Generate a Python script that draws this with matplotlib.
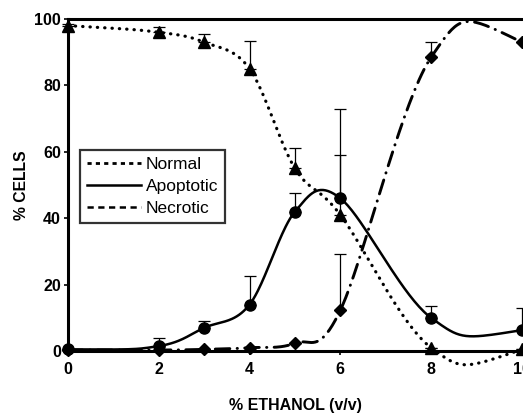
import matplotlib.pyplot as plt
import numpy as np
from matplotlib.lines import Line2D

plt.rcParams["font.family"] = ["Liberation Sans", "DejaVu Sans"]

# ── data ──────────────────────────────────────────────────────────────────────
ETHANOL = [0, 2, 3, 4, 5, 6, 8, 10]

NORMAL      = [98, 96, 93, 85, 55, 41, 1.0, 0.5]
NORMAL_ERR  = [0.5, 1.5, 2.5, 8.5, 6, 18, 0, 0]
APOPT       = [0.5, 1.5, 7, 14, 42, 46, 10, 6.3]
APOPT_ERR   = [0, 2.5, 2, 8.5, 5.5, 27, 3.5, 6.7]
NECROT      = [0.3, 0.3, 0.5, 1.0, 2.4, 12.3, 88.5, 93]
NECROT_ERR  = [0, 0, 0, 0, 0, 17, 4.5, 0]

XTICKS = [0, 2, 4, 6, 8, 10]
YTICKS = [0, 20, 40, 60, 80, 100]


def smooth(x, y, n=40):
    """Spreadsheet-style smoothed line (Hermite through the points)."""
    P = np.column_stack([x, y]).astype(float)
    T = np.zeros_like(P)
    T[1:-1] = (P[2:] - P[:-2]) / 2
    T[0] = 3 * (P[1] - P[0]) - T[1]
    T[-1] = 3 * (P[-1] - P[-2]) - T[-2]
    t = np.linspace(0, 1, n)[:, None]
    h00 = 2 * t**3 - 3 * t**2 + 1
    h10 = t**3 - 2 * t**2 + t
    h01 = -2 * t**3 + 3 * t**2
    h11 = t**3 - t**2
    segs = [h00 * P[i] + h10 * T[i] + h01 * P[i + 1] + h11 * T[i + 1]
            for i in range(len(P) - 1)]
    out = np.vstack(segs)
    return out[:, 0], out[:, 1]


fig = plt.figure(figsize=(5.23, 4.13), dpi=100)
ax = fig.add_axes([0.130, 0.150, 0.868, 0.804])

series = [
    (NORMAL, NORMAL_ERR, "^", (0, (0.1, 2.2)), 2.3),
    (APOPT, APOPT_ERR, "o", "-", 1.8),
    (NECROT, NECROT_ERR, "D", (0, (5, 2.5, 0.1, 2.5)), 2.1),
]

for vals, err, mk, ls, lw in series:
    sx, sy = smooth(ETHANOL, vals)
    ax.plot(sx, sy, color="black", lw=lw, ls=ls, dash_capstyle="round",
            clip_on=False, zorder=2)
    ax.errorbar(ETHANOL, vals, yerr=[np.zeros(len(err)), err], fmt="none",
                ecolor="black", elinewidth=0.9, capsize=4, capthick=0.9,
                clip_on=False, zorder=3)
    ax.plot(ETHANOL, vals, ls="none", marker=mk, ms=8 if mk != "D" else 6.5,
            color="black", clip_on=False, zorder=4)

ax.set_xlim(0, 10)
ax.set_ylim(0, 100)
ax.set_xticks(XTICKS)
ax.set_yticks(YTICKS)
ax.tick_params(labelsize=11.5, width=1.2, length=3)
ax.tick_params(axis="x", pad=5)
ax.tick_params(axis="y", pad=2)
for lab in ax.get_xticklabels() + ax.get_yticklabels():
    lab.set_fontweight("bold")
for side in ["left", "bottom", "top"]:
    ax.spines[side].set_linewidth(2.2)
ax.spines["right"].set_visible(False)

ax.set_xlabel("% ETHANOL (v/v)", fontsize=11.5, fontweight="bold", labelpad=15)
ax.set_ylabel("% CELLS", fontsize=11.3, fontweight="bold", labelpad=4)

handles = [
    Line2D([], [], color="black", lw=2.0, ls=(0, (1.5, 1.5))),
    Line2D([], [], color="black", lw=1.8, ls="-"),
    Line2D([], [], color="black", lw=1.8, ls=(0, (2.5, 1.8))),
]
leg = ax.legend(handles, ["Normal", "Apoptotic", "Necrotic"],
                loc="upper left", bbox_to_anchor=(0.026, 0.605),
                borderaxespad=0, fontsize=12.5, frameon=True, fancybox=False,
                handlelength=3.1, handletextpad=0.3, labelspacing=0.4,
                borderpad=0.4)
leg.get_frame().set_edgecolor("black")
leg.get_frame().set_linewidth(1.6)

plt.savefig("out.png", dpi=100)
